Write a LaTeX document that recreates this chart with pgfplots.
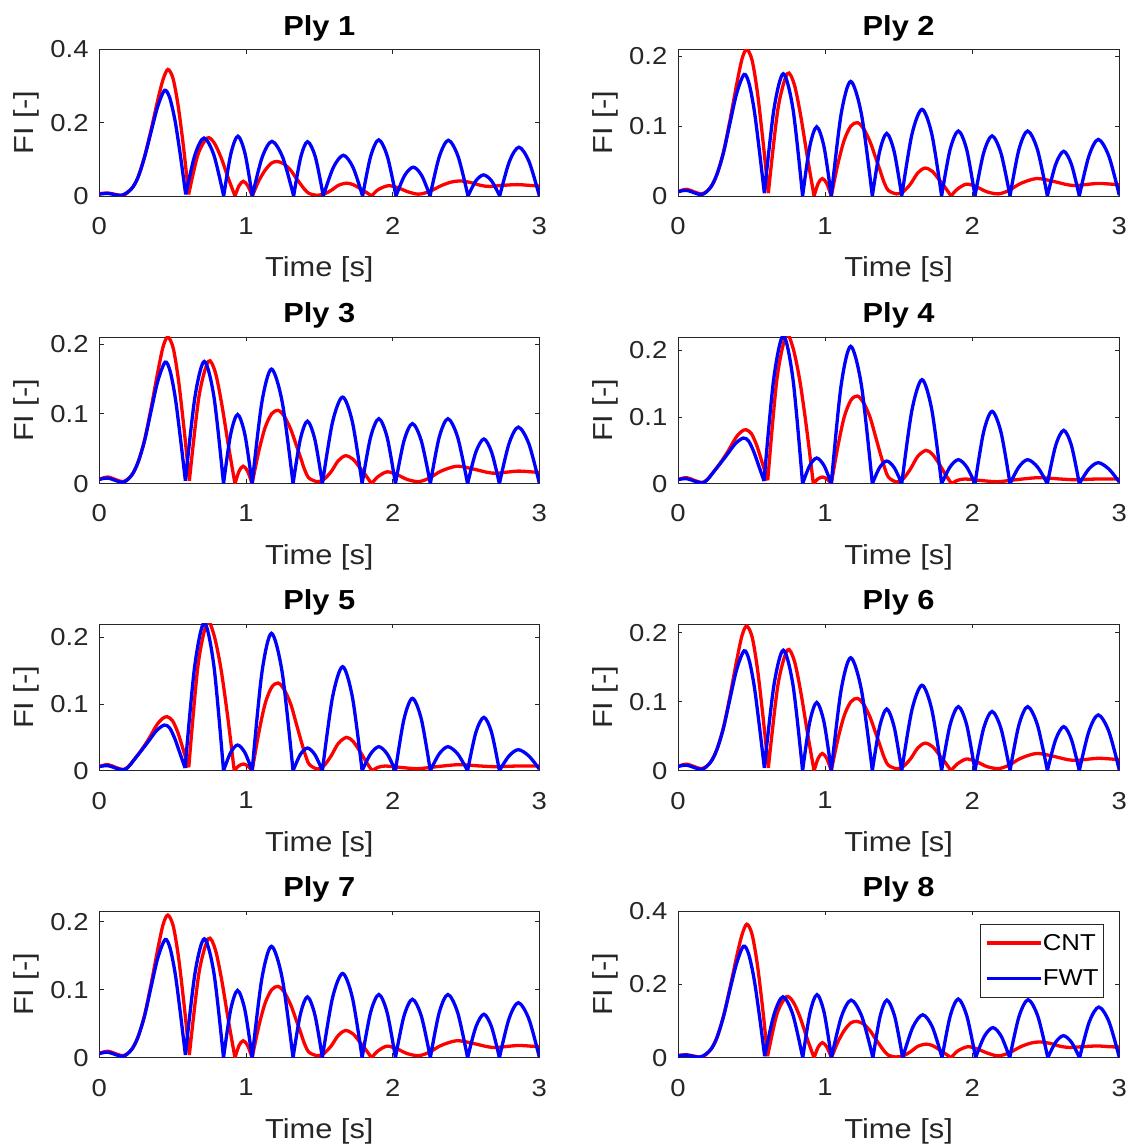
\documentclass[border=0pt]{standalone}
\usepackage{pgfplots}
\pgfplotsset{compat=1.18}
\usepackage{pgfplotstable}
\usepackage{fontspec}
\setmainfont{Liberation Sans}[FakeStretch=1.12]
\definecolor{axgray}{rgb}{0.15,0.15,0.15}

% ---------- Type A (Ply 1) ----------
\pgfplotstableread{
t v
0 0.006
0.06 0.008
0.16 0.002
0.22 0.02
0.263 0.05
0.308 0.107
0.353 0.18
0.399 0.262
0.435 0.318
0.468 0.345
0.503 0.32
0.538 0.245
0.574 0.134
0.609 0.004
0.609 nan
0.609 0.004
0.672 0.112
0.736 0.158
0.783 0.145
0.83 0.105
0.878 0.05
0.925 0
0.925 nan
0.925 0
0.953 0.028
0.982 0.04
1.012 0.028
1.043 0
1.043 nan
1.043 0
1.086 0.04
1.13 0.07
1.175 0.09
1.216 0.094
1.26 0.087
1.305 0.07
1.34 0.05
1.373 0.032
1.4 0.018
1.43 0.007
1.48 0.002
1.53 0.005
1.58 0.015
1.63 0.029
1.686 0.035
1.73 0.031
1.78 0.02
1.82 0.01
1.857 0
1.857 nan
1.857 0
1.9 0.017
1.97 0.028
2.04 0.022
2.1 0.012
2.175 0.005
2.25 0.012
2.33 0.028
2.4 0.038
2.459 0.041
2.53 0.037
2.6 0.029
2.66 0.026
2.75 0.029
2.85 0.031
2.93 0.029
3 0.027
}\redA
\pgfplotstableread{
t v
0 0.005
0.06 0.007
0.152 0.002
0.22 0.02
0.263 0.05
0.308 0.105
0.353 0.175
0.399 0.245
0.445 0.288
0.48 0.268
0.517 0.204
0.553 0.11
0.589 0.004
0.589 nan
0.589 0.004
0.652 0.112
0.714 0.158
0.781 0.112
0.848 0
0.848 nan
0.848 0
0.897 0.115
0.945 0.163
0.994 0.115
1.043 0
1.043 nan
1.043 0
1.11 0.105
1.177 0.149
1.251 0.105
1.325 0
1.325 nan
1.325 0
1.373 0.105
1.42 0.148
1.474 0.105
1.527 0
1.527 nan
1.527 0
1.596 0.078
1.664 0.111
1.73 0.078
1.795 0
1.795 nan
1.795 0
1.85 0.108
1.905 0.153
1.964 0.108
2.023 0
2.023 nan
2.023 0
2.082 0.056
2.141 0.0785
2.198 0.056
2.255 0
2.255 nan
2.255 0
2.318 0.107
2.38 0.152
2.447 0.107
2.514 0
2.514 nan
2.514 0
2.567 0.041
2.62 0.0575
2.675 0.041
2.73 0
2.73 nan
2.73 0
2.796 0.094
2.861 0.133
2.93 0.094
3 0.001
}\blueA

% ---------- Ply 8 ----------
\pgfplotstableread{
t v
0 0.006
0.06 0.008
0.16 0.002
0.22 0.021
0.263 0.053
0.308 0.112
0.353 0.19
0.399 0.276
0.435 0.335
0.468 0.364
0.503 0.337
0.538 0.258
0.574 0.14
0.609 0.004
0.609 nan
0.609 0.004
0.672 0.118
0.736 0.166
0.783 0.152
0.83 0.11
0.878 0.052
0.925 0
0.925 nan
0.925 0
0.953 0.029
0.982 0.041
1.012 0.029
1.043 0
1.043 nan
1.043 0
1.086 0.042
1.13 0.074
1.175 0.095
1.216 0.099
1.26 0.092
1.305 0.074
1.34 0.053
1.373 0.034
1.4 0.019
1.43 0.007
1.48 0.002
1.53 0.005
1.58 0.016
1.63 0.031
1.686 0.037
1.73 0.033
1.78 0.021
1.82 0.01
1.857 0
1.857 nan
1.857 0
1.9 0.018
1.97 0.03
2.04 0.023
2.1 0.013
2.175 0.005
2.25 0.013
2.33 0.03
2.4 0.04
2.459 0.043
2.53 0.039
2.6 0.031
2.66 0.028
2.75 0.03
2.85 0.032
2.93 0.03
3 0.029
}\redH
\pgfplotstableread{
t v
0 0.005
0.06 0.007
0.152 0.002
0.22 0.021
0.263 0.053
0.308 0.11
0.353 0.185
0.399 0.258
0.445 0.304
0.48 0.283
0.517 0.215
0.553 0.116
0.589 0.004
0.589 nan
0.589 0.004
0.652 0.117
0.714 0.166
0.781 0.117
0.848 0
0.848 nan
0.848 0
0.897 0.122
0.945 0.172
0.994 0.122
1.043 0
1.043 nan
1.043 0
1.11 0.111
1.177 0.157
1.251 0.111
1.325 0
1.325 nan
1.325 0
1.373 0.111
1.42 0.157
1.474 0.111
1.527 0
1.527 nan
1.527 0
1.596 0.083
1.664 0.117
1.73 0.083
1.795 0
1.795 nan
1.795 0
1.85 0.113
1.905 0.16
1.964 0.113
2.023 0
2.023 nan
2.023 0
2.082 0.058
2.141 0.082
2.198 0.058
2.255 0
2.255 nan
2.255 0
2.318 0.112
2.38 0.158
2.447 0.112
2.514 0
2.514 nan
2.514 0
2.567 0.042
2.62 0.06
2.675 0.042
2.73 0
2.73 nan
2.73 0
2.796 0.098
2.861 0.138
2.93 0.098
3 0.001
}\blueH

% ---------- Type B (Plies 2, 3, 6, 7) ----------
\pgfplotstableread{
t v
0 0.006
0.06 0.0095
0.16 0.003
0.22 0.012
0.263 0.03
0.308 0.062
0.353 0.108
0.399 0.16
0.435 0.196
0.467 0.21
0.504 0.194
0.54 0.148
0.577 0.08
0.614 0.004
0.614 nan
0.614 0.004
0.679 0.124
0.743 0.175
0.79 0.16
0.834 0.115
0.88 0.055
0.925 0
0.925 nan
0.925 0
0.953 0.018
0.981 0.025
1.011 0.018
1.042 0
1.042 nan
1.042 0
1.086 0.045
1.13 0.08
1.175 0.1
1.219 0.105
1.26 0.097
1.305 0.078
1.34 0.057
1.373 0.037
1.4 0.02
1.43 0.008
1.486 0.003
1.53 0.006
1.58 0.017
1.63 0.033
1.679 0.04
1.73 0.035
1.78 0.022
1.82 0.011
1.856 0
1.856 nan
1.856 0
1.9 0.01
1.962 0.017
2.03 0.013
2.1 0.006
2.178 0.003
2.25 0.008
2.33 0.018
2.438 0.025
2.55 0.021
2.65 0.016
2.71 0.015
2.8 0.017
2.869 0.018
3 0.016
}\redB
\pgfplotstableread{
t v
0 0.006
0.06 0.008
0.16 0.002
0.22 0.012
0.263 0.03
0.308 0.061
0.353 0.104
0.399 0.147
0.449 0.174
0.483 0.161
0.518 0.123
0.552 0.067
0.587 0.004
0.587 nan
0.587 0.004
0.652 0.124
0.716 0.175
0.782 0.124
0.847 0
0.847 nan
0.847 0
0.895 0.07
0.943 0.099
0.993 0.07
1.042 0
1.042 nan
1.042 0
1.108 0.116
1.174 0.164
1.248 0.116
1.321 0
1.321 nan
1.321 0
1.37 0.063
1.419 0.0895
1.47 0.063
1.521 0
1.521 nan
1.521 0
1.59 0.088
1.659 0.124
1.726 0.088
1.792 0
1.792 nan
1.792 0
1.849 0.066
1.906 0.093
1.963 0.066
2.019 0
2.019 nan
2.019 0
2.077 0.061
2.135 0.086
2.196 0.061
2.257 0
2.257 nan
2.257 0
2.317 0.066
2.377 0.093
2.444 0.066
2.511 0
2.511 nan
2.511 0
2.567 0.045
2.622 0.064
2.675 0.045
2.728 0
2.728 nan
2.728 0
2.793 0.057
2.857 0.081
2.929 0.057
3 0.001
}\blueB

% ---------- Type C (Plies 4, 5) ----------
\pgfplotstableread{
t v
0 0.006
0.06 0.009
0.17 0.002
0.25 0.02
0.33 0.045
0.39 0.068
0.43 0.078
0.462 0.081
0.499 0.075
0.536 0.057
0.573 0.031
0.61 0.005
0.61 nan
0.61 0.005
0.672 0.156
0.734 0.222
0.78 0.205
0.827 0.156
0.873 0.085
0.92 0
0.92 nan
0.92 0
0.95 0.007
0.983 0.01
1.012 0.007
1.042 0
1.042 nan
1.042 0
1.086 0.055
1.13 0.1
1.175 0.125
1.219 0.1315
1.26 0.122
1.305 0.1
1.34 0.073
1.373 0.047
1.4 0.027
1.43 0.01
1.486 0.0025
1.53 0.007
1.58 0.022
1.63 0.041
1.686 0.05
1.73 0.044
1.78 0.028
1.82 0.013
1.86 0
1.86 nan
1.86 0
1.9 0.005
1.95 0.007
2.05 0.005
2.17 0.003
2.3 0.006
2.45 0.009
2.6 0.007
2.7 0.006
2.85 0.007
3 0.007
}\redC
\pgfplotstableread{
t v
0 0.006
0.06 0.0075
0.172 0.0015
0.25 0.02
0.33 0.0425
0.39 0.06
0.444 0.0685
0.48 0.064
0.515 0.048
0.55 0.026
0.585 0.004
0.585 nan
0.585 0.004
0.65 0.156
0.716 0.222
0.782 0.156
0.847 0
0.847 nan
0.847 0
0.895 0.027
0.943 0.0385
0.993 0.027
1.042 0
1.042 nan
1.042 0
1.108 0.146
1.174 0.206
1.248 0.146
1.321 0
1.321 nan
1.321 0
1.37 0.024
1.419 0.034
1.47 0.024
1.521 0
1.521 nan
1.521 0
1.59 0.11
1.659 0.156
1.726 0.11
1.792 0
1.792 nan
1.792 0
1.849 0.025
1.906 0.036
1.963 0.025
2.019 0
2.019 nan
2.019 0
2.077 0.077
2.135 0.1085
2.196 0.077
2.257 0
2.257 nan
2.257 0
2.317 0.025
2.377 0.036
2.444 0.025
2.511 0
2.511 nan
2.511 0
2.567 0.057
2.622 0.08
2.675 0.057
2.728 0
2.728 nan
2.728 0
2.793 0.022
2.857 0.0315
2.929 0.022
3 0.0025
}\blueC

\pgfplotsset{
  ply/.style={
    scale only axis, height=146.7pt,
    xmin=0, xmax=3, ymin=0,
    xtick={0,1,2,3},
    unbounded coords=jump,
    axis line style={axgray, line width=0.9pt},
    every tick/.style={axgray, line width=0.9pt},
    tick align=inside,
    major tick length=4.4pt,
    /pgf/number format/assume math mode=true,
    tick label style={font=\fontsize{24.5}{24.5}\selectfont, text=axgray},
    xticklabel style={inner sep=0pt, anchor=north, yshift=-21pt},
    yticklabel style={inner sep=0pt, anchor=east, xshift=-10.5pt},
    every axis x label/.style={at={([yshift=-81pt]axis description cs:0.5,0)}, anchor=base, inner sep=0pt, font=\fontsize{27.5}{27.5}\selectfont, text=axgray},
    every axis y label/.style={at={([xshift=-66pt]axis description cs:0,0.5)}, rotate=90, anchor=base, inner sep=0pt, font=\fontsize{27.5}{27.5}\selectfont, text=axgray},
    every axis title/.style={at={([yshift=14pt]axis description cs:0.5,1)}, anchor=base, inner sep=0pt, font=\bfseries\fontsize{27.5}{27.5}\selectfont, text=black},
    xlabel={Time [s]}, ylabel={FI [-]},
    every axis plot/.append style={line width=3.3pt, smooth},
  },
  left/.style={ply, width=440pt},
  right/.style={ply, width=441.3pt},
  big/.style={ymax=0.4, ytick={0,0.2,0.4}},
  small/.style={ytick={0,0.1,0.2}},
}

\begin{document}
\begin{tikzpicture}
\useasboundingbox (0pt,0pt) rectangle (1133pt,1146pt);

% Row 1
\begin{axis}[left, big, title={Ply 1}, at={(99.3pt,1096.7pt)}, anchor=north west]
\addplot[red] table[x=t,y=v] {\redA};
\addplot[blue] table[x=t,y=v] {\blueA};
\end{axis}
\begin{axis}[right, small, ymax=0.21, title={Ply 2}, at={(678pt,1096.7pt)}, anchor=north west]
\addplot[red] table[x=t,y=v] {\redB};
\addplot[blue] table[x=t,y=v] {\blueB};
\end{axis}

% Row 2
\begin{axis}[left, small, ymax=0.21, title={Ply 3}, at={(99.3pt,809pt)}, anchor=north west]
\addplot[red] table[x=t,y=v] {\redB};
\addplot[blue] table[x=t,y=v] {\blueB};
\end{axis}
\begin{axis}[right, small, ymax=0.22, title={Ply 4}, at={(678pt,809pt)}, anchor=north west]
\addplot[red] table[x=t,y=v] {\redC};
\addplot[blue] table[x=t,y=v] {\blueC};
\end{axis}

% Row 3
\begin{axis}[left, small, ymax=0.22, title={Ply 5}, at={(99.3pt,522pt)}, anchor=north west]
\addplot[red] table[x=t,y=v] {\redC};
\addplot[blue] table[x=t,y=v] {\blueC};
\end{axis}
\begin{axis}[right, small, ymax=0.213, title={Ply 6}, at={(678pt,522pt)}, anchor=north west]
\addplot[red] table[x=t,y=v] {\redB};
\addplot[blue] table[x=t,y=v] {\blueB};
\end{axis}

% Row 4
\begin{axis}[left, small, ymax=0.216, title={Ply 7}, at={(99.3pt,235pt)}, anchor=north west]
\addplot[red] table[x=t,y=v] {\redB};
\addplot[blue] table[x=t,y=v] {\blueB};
\end{axis}
\begin{axis}[right, big, title={Ply 8}, at={(678pt,235pt)}, anchor=north west,
  legend style={at={(axis description cs:0.9653,0.9114)}, anchor=north east,
    draw=axgray, line width=0.7pt, fill=white,
    font=\fontsize{23}{23}\selectfont, text=black,
    inner xsep=5pt, inner ysep=10pt, row sep=18pt,
    nodes={inner sep=0pt}, column sep=0pt},
  legend cell align=left,
  /tikz/every even column/.append style={column sep=5pt},
  legend image code/.code={\draw[#1, line width=3.3pt, sharp plot] (0pt,0pt) -- (54pt,0pt);}]
\addplot[red] table[x=t,y=v] {\redH};
\addlegendentry{CNT}
\addplot[blue] table[x=t,y=v] {\blueH};
\addlegendentry{FWT}
\end{axis}
\end{tikzpicture}
\end{document}
